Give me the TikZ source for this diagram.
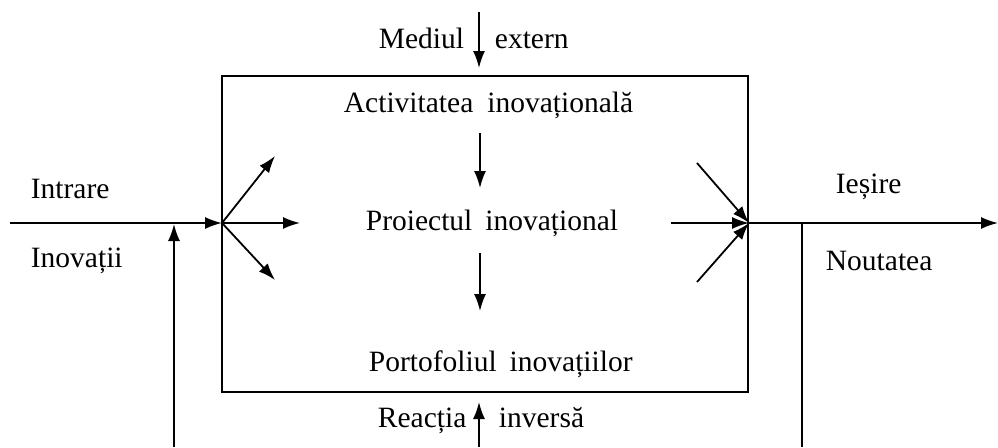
\documentclass[tikz,border=0pt]{standalone}
\usepackage{fontspec}
\setmainfont{Liberation Serif}
\usetikzlibrary{arrows.meta}
\begin{document}
\begin{tikzpicture}[x=1pt,y=-1pt, line width=1.8pt,
  font=\fontsize{29.5}{33}\selectfont,
  arr/.style={-{Latex[length=17pt,width=12pt]}},
  lbl/.style={inner sep=0pt, anchor=base west}]
\useasboundingbox (0,0) rectangle (998,447);
% the system
\draw (222,76) rectangle (748,392);
\node[lbl] (act) at (343,112) {Activitatea\hspace{14pt}inovațională};
\node[lbl] (proj) at (365,230) {Proiectul\hspace{13pt}inovațional};
\node[lbl] (port) at (368,371) {Portofoliul\hspace{13pt}inovațiilor};
\coordinate (a1) at (480,133);
\coordinate (a2) at (480,188);
\coordinate (a3) at (480,253);
\coordinate (a4) at (480,311);
\draw[arr] (a1) -- (a2);
\draw[arr] (a3) -- (a4);
% outer influence
\node[lbl] (med) at (378,48) {Mediul};
\node[lbl] (ext) at (494,48) {extern};
\coordinate (m0) at (479,12);
\coordinate (m1) at (479,68);
\draw[arr] (m0) -- (m1);
% feedback
\node[lbl] (rea) at (377,427) {Reacția};
\node[lbl] (inv) at (498,427) {inversă};
\coordinate (r0) at (479,447);
\coordinate (r1) at (479,402);
\draw[arr] (r0) -- (r1);
% input
\node[lbl] (intr) at (30,198) {Intrare};
\node[lbl] (inov) at (30,267) {Inovații};
\coordinate (in0) at (10,223);
\coordinate (in) at (222,223);
\draw[arr] (in0) -- (in);
\coordinate (f0) at (174,447);
\coordinate (f1) at (174,224);
\draw[arr] (f0) -- (f1);
\coordinate (e1) at (275,156);
\coordinate (e2) at (300,223);
\coordinate (e3) at (275,280);
\draw[arr] (in) -- (e1);
\draw[arr] (in) -- (e2);
\draw[arr] (in) -- (e3);
% output
\coordinate (out) at (749,223);
\coordinate (o1) at (697,163);
\coordinate (o2) at (671,223);
\coordinate (o3) at (697,282);
\draw[arr] (o1) -- (out);
\draw[arr] (o2) -- (out);
\draw[arr] (o3) -- (out);
\coordinate (out1) at (998,223);
\draw[arr] (out) -- (out1);
\coordinate (v0) at (802,223);
\coordinate (v1) at (802,447);
\draw (v0) -- (v1);
\node[lbl] (ies) at (835,193) {Ieșire};
\node[lbl] (nou) at (825,270) {Noutatea};
\end{tikzpicture}
\end{document}
